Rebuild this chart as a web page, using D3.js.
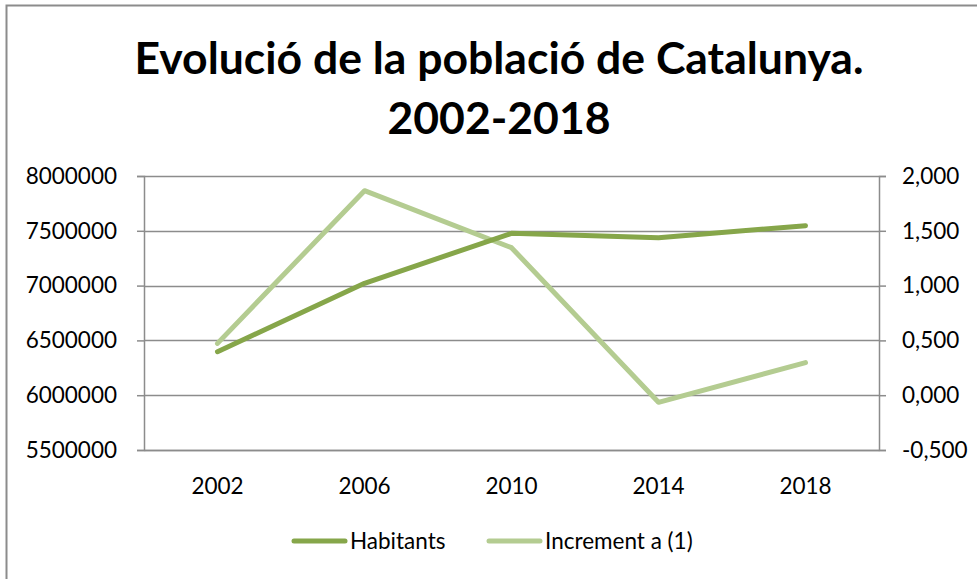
<!DOCTYPE html>
<html>
<head>
<meta charset="utf-8">
<script src="https://cdn.jsdelivr.net/npm/d3@7"></script>
<style>
  body { margin: 0; background: #fff; }
  text { font-family: Lato, "Open Sans", sans-serif; fill: #000; }
</style>
</head>
<body>
<svg id="chart" width="977" height="579"></svg>
<script>
var years = ["2002", "2006", "2010", "2014", "2018"];
var habitants = [6397000, 7021000, 7477000, 7437000, 7547000];
var increment = [0.473, 1.866, 1.346, -0.065, 0.297];
var leftTicks = [5500000, 6000000, 6500000, 7000000, 7500000, 8000000];
var rightTicks = [-0.5, 0, 0.5, 1, 1.5, 2];
var titleLines = ["Evolució de la població de Catalunya.", "2002-2018"];
var seriesNames = ["Habitants", "Increment a (1)"];

var margin = {top: 176, right: 98, bottom: 129, left: 144};
var width = 977 - margin.left - margin.right;
var height = 579 - margin.top - margin.bottom;
var grey = "#8c8c8c";
var colors = ["#86a64a", "#b4cc91"];
var labelSize = "22.5px";

var svg = d3.select("#chart");

// outer frame
svg.append("path")
    .attr("d", "M977,5.5 H6.5 V579")
    .attr("fill", "none")
    .attr("stroke", grey)
    .attr("stroke-width", 2);

svg.selectAll("text.title")
    .data(titleLines)
    .enter().append("text")
    .attr("class", "title")
    .attr("x", 499)
    .attr("y", function(d, i) { return 74 + i * 60; })
    .attr("text-anchor", "middle")
    .attr("font-size", "44.5px")
    .attr("font-weight", "bold")
    .text(function(d) { return d; });

var g = svg.append("g")
    .attr("transform", "translate(" + margin.left + "," + margin.top + ")");

var x = d3.scaleBand().domain(years).range([0, width]);
var yLeft = d3.scaleLinear().domain([5500000, 8000000]).range([height, 0]);
var yRight = d3.scaleLinear().domain([-0.5, 2]).range([height, 0]);

// gridlines
g.selectAll("line.grid")
    .data(leftTicks)
    .enter().append("line")
    .attr("class", "grid")
    .attr("x1", 0)
    .attr("x2", width)
    .attr("y1", function(d) { return Math.round(yLeft(d)) + 0.5; })
    .attr("y2", function(d) { return Math.round(yLeft(d)) + 0.5; })
    .attr("stroke", grey)
    .attr("stroke-width", 1.5);

var leftAxis = g.append("g")
    .call(d3.axisLeft(yLeft).tickValues(leftTicks).tickSize(7).tickPadding(20).tickFormat(d3.format("d")));
var rightAxis = g.append("g")
    .attr("transform", "translate(" + width + ",0)")
    .call(d3.axisRight(yRight).tickValues(rightTicks).tickSize(7).tickPadding(16)
        .tickFormat(function(d) { return d3.format(".3f")(d).replace(".", ",").replace("\u2212", "-"); }));
var bottomAxis = g.append("g")
    .attr("transform", "translate(0," + height + ")")
    .call(d3.axisBottom(x).tickSize(0).tickPadding(28));

[leftAxis, rightAxis, bottomAxis].forEach(function(a) {
    a.selectAll(".domain").attr("stroke", grey).attr("stroke-width", 1.5);
    a.selectAll(".tick line").attr("stroke", grey).attr("stroke-width", 1.5);
    a.selectAll("text").attr("font-size", labelSize).attr("font-family", "Lato, 'Open Sans', sans-serif").attr("fill", "#000");
});

var lineLeft = d3.line()
    .x(function(d, i) { return x(years[i]) + x.bandwidth() / 2; })
    .y(function(d) { return yLeft(d); });
var lineRight = d3.line()
    .x(function(d, i) { return x(years[i]) + x.bandwidth() / 2; })
    .y(function(d) { return yRight(d); });

g.append("path")
    .attr("d", lineRight(increment))
    .attr("fill", "none")
    .attr("stroke", colors[1])
    .attr("stroke-width", 5)
    .attr("stroke-linecap", "round")
    .attr("stroke-linejoin", "round");

g.append("path")
    .attr("d", lineLeft(habitants))
    .attr("fill", "none")
    .attr("stroke", colors[0])
    .attr("stroke-width", 5)
    .attr("stroke-linecap", "round")
    .attr("stroke-linejoin", "round");

// legend
var legend = svg.selectAll("g.legend")
    .data(seriesNames)
    .enter().append("g")
    .attr("class", "legend")
    .attr("transform", function(d, i) { return "translate(" + (294 + i * 195) + ",541)"; });

legend.append("line")
    .attr("x1", 0).attr("x2", 51)
    .attr("stroke", function(d, i) { return colors[i]; })
    .attr("stroke-width", 5)
    .attr("stroke-linecap", "round");

legend.append("text")
    .attr("x", 56)
    .attr("y", 8)
    .attr("font-size", labelSize)
    .text(function(d) { return d; });
</script>
</body>
</html>
